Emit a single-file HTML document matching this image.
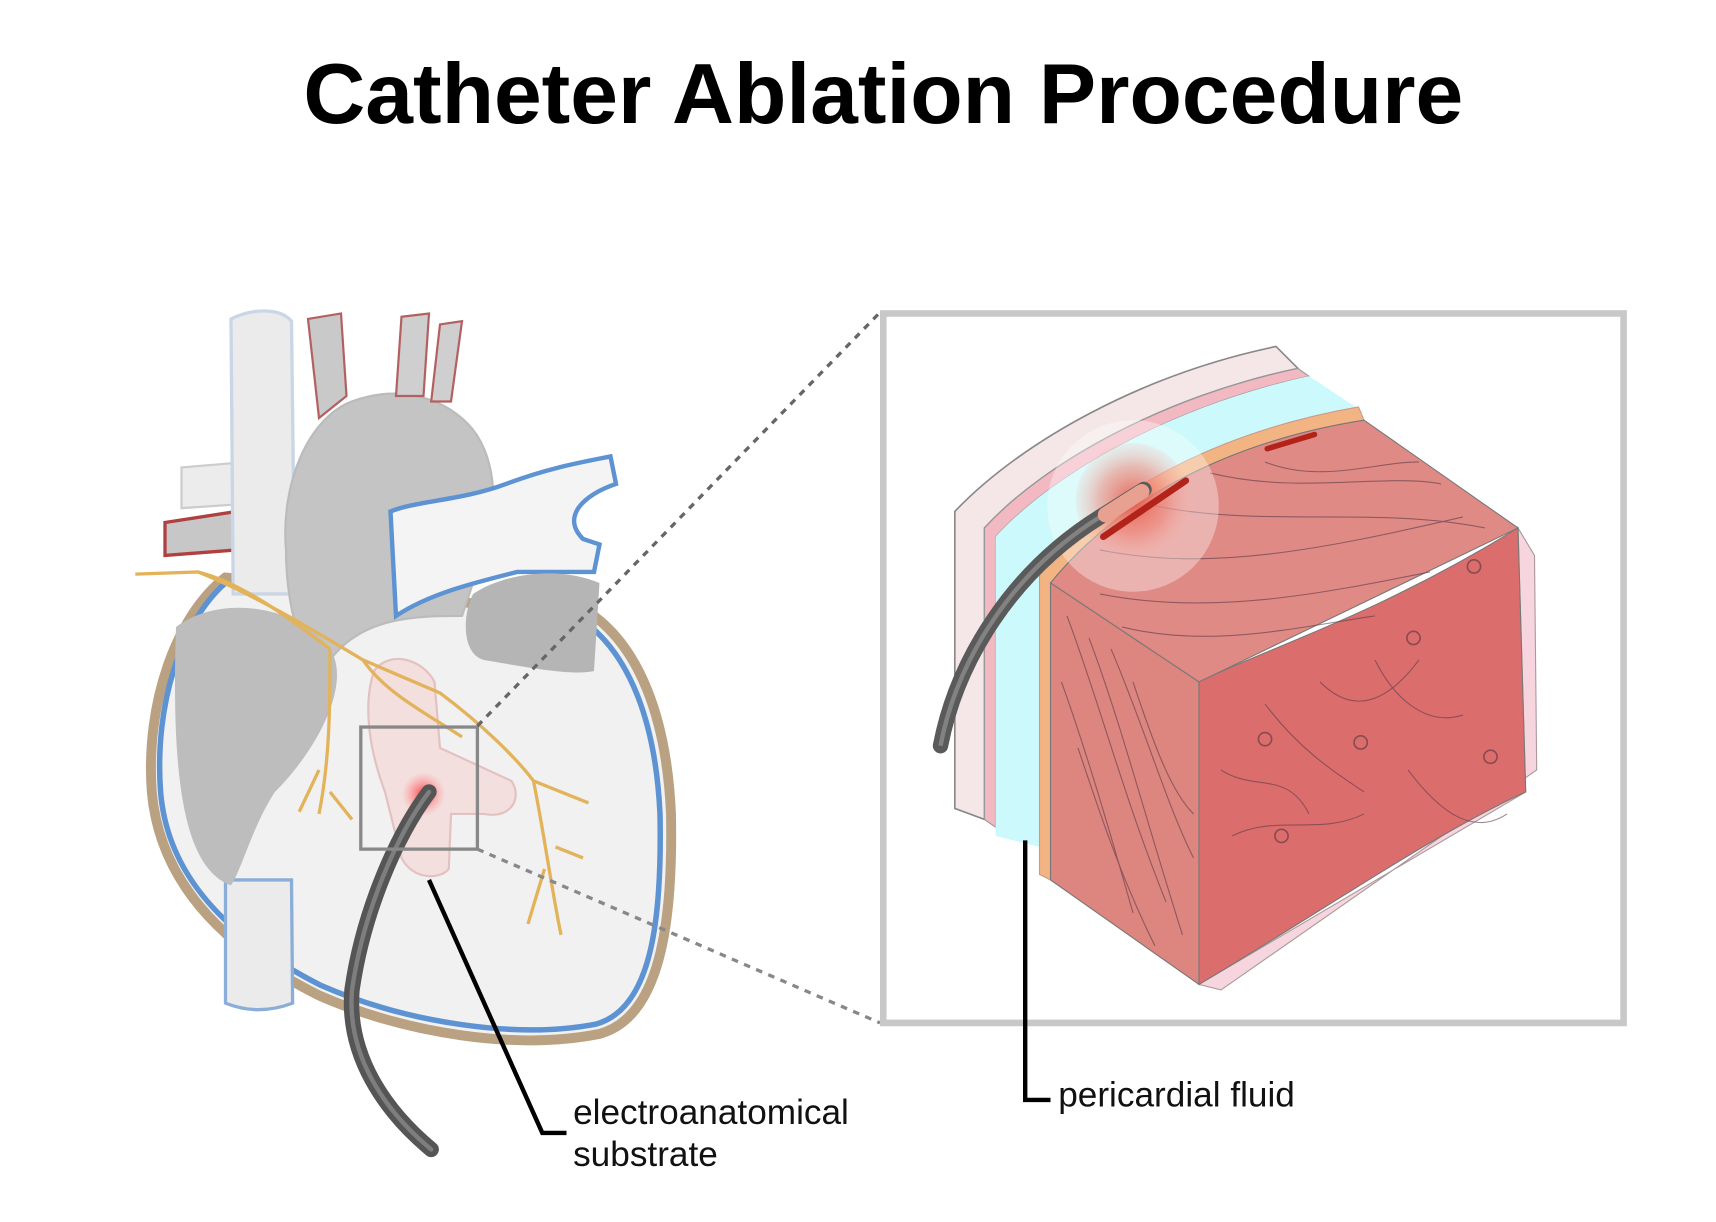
<!DOCTYPE html>
<html><head><meta charset="utf-8"><style>
html,body{margin:0;padding:0;background:#fff;width:1716px;height:1222px;overflow:hidden}
svg{display:block}
text{font-family:"Liberation Sans",sans-serif}
</style></head><body>
<svg width="1716" height="1222" viewBox="0 0 1560 1111" preserveAspectRatio="none" xmlns="http://www.w3.org/2000/svg">
<defs>
<radialGradient id="glow" cx="0.5" cy="0.5" r="0.5">
<stop offset="0" stop-color="#e84a3a" stop-opacity="0.85"/>
<stop offset="0.6" stop-color="#ee7a6a" stop-opacity="0.5"/>
<stop offset="1" stop-color="#f5b0a8" stop-opacity="0.15"/>
</radialGradient>
<radialGradient id="glow2" cx="0.5" cy="0.5" r="0.5">
<stop offset="0" stop-color="#ff3030" stop-opacity="0.9"/>
<stop offset="1" stop-color="#ff8080" stop-opacity="0"/>
</radialGradient>
</defs>
<text x="803" y="112" font-size="78" font-weight="bold" text-anchor="middle" fill="#000">Catheter Ablation Procedure</text>

<!-- Heart -->
<path d="M205,525 C160,560 132,640 138,720 C145,800 200,860 290,905 C370,940 470,955 545,940 C600,925 612,840 610,740 C606,650 580,590 540,560 Z" fill="#f1f1f1" stroke="#b9a182" stroke-width="9"/>
<path d="M205,530 C165,565 140,640 146,720 C152,795 205,852 292,896 C370,930 470,945 542,931 C592,917 602,838 600,740 C596,655 572,598 535,568" fill="none" stroke="#5d93d2" stroke-width="5"/>
<path d="M150,475 L215,465 L215,500 L150,505 Z" fill="#c7c7c7" stroke="#b04040" stroke-width="3"/>
<path d="M165,425 L225,420 L225,458 L165,462 Z" fill="#ececec" stroke="#ccc" stroke-width="2"/>
<path d="M210,290 C230,280 255,280 265,292 L268,540 L212,540 Z" fill="#ebebeb" stroke="#c9d6e6" stroke-width="3"/>
<path d="M205,800 L265,800 L266,912 C245,920 225,920 205,912 Z" fill="#ebebeb" stroke="#8aaed8" stroke-width="3"/>
<path d="M260,500 C255,440 280,380 320,365 C360,350 400,360 425,385 C450,410 455,460 440,500 L420,560 C380,560 330,560 300,600 C280,620 260,560 260,500 Z" fill="#c4c4c4" stroke="#bbb" stroke-width="2"/>
<path d="M280,290 L310,285 L315,360 L290,380 Z" fill="#c9c9c9" stroke="#b36060" stroke-width="2"/>
<path d="M365,288 L390,285 L385,360 L360,360 Z" fill="#cfcfcf" stroke="#b36060" stroke-width="2"/>
<path d="M400,295 L420,292 L410,365 L392,365 Z" fill="#cfcfcf" stroke="#b36060" stroke-width="2"/>
<path d="M160,570 C200,540 270,550 300,590 C320,620 290,680 250,720 C230,750 220,790 210,805 C170,790 155,720 160,570 Z" fill="#bdbdbd"/>
<path d="M355,465 C380,455 420,455 460,440 C500,425 530,420 555,415 L560,440 C530,450 510,470 530,490 L545,495 L540,520 L470,520 C430,530 390,540 360,560 Z" fill="#f4f4f4" stroke="#5d93d2" stroke-width="4"/>
<path d="M430,540 C460,520 510,515 545,530 L540,610 C520,615 470,605 440,600 C420,595 420,560 430,540 Z" fill="#b5b5b5"/>
<path d="M340,610 C355,590 385,600 395,620 L400,680 L465,710 C475,725 465,745 440,740 L410,740 L408,790 C400,800 375,800 365,780 L350,720 C335,680 330,640 340,610 Z" fill="#f5dede" stroke="#e3bcbc" stroke-width="2" opacity="0.9"/>
<circle cx="385" cy="722" r="20" fill="url(#glow2)"/>
<g fill="none" stroke="#e2b35a" stroke-width="3">
<path d="M123,522 L180,520 C230,540 280,570 330,600 L400,630 C440,660 470,690 485,710 L535,730"/>
<path d="M330,600 C350,630 390,650 420,670"/>
<path d="M485,710 C495,760 500,800 510,850"/>
<path d="M300,590 C300,640 300,690 290,740"/>
<path d="M290,700 L272,738 M300,720 L320,745 M495,790 L480,840 M505,770 L530,780"/>
<path d="M180,520 C220,530 260,560 300,590"/>
</g>
<path d="M390,720 C360,760 330,830 320,900 C315,960 350,1010 392,1045" fill="none" stroke="#555" stroke-width="14" stroke-linecap="round"/>
<path d="M390,720 C360,760 330,830 320,900 C315,960 350,1010 392,1045" fill="none" stroke="#999" stroke-width="4" stroke-linecap="round" opacity="0.6"/>
<rect x="328" y="661" width="106" height="111" fill="none" stroke="#888" stroke-width="3"/>

<!-- dotted connectors -->
<line x1="434" y1="660" x2="800" y2="284" stroke="#666" stroke-width="3" stroke-dasharray="6,6"/>
<line x1="434" y1="772" x2="800" y2="930" stroke="#888" stroke-width="3" stroke-dasharray="6,6"/>

<!-- Inset box -->
<rect x="803" y="285" width="673" height="645" fill="#fff" stroke="#c8c8c8" stroke-width="6"/>

<!-- tissue layers -->
<path d="M868,465 C930,400 1040,340 1160,315 L1180,335 C1060,360 950,420 895,480 L895,745 L868,735 Z" fill="#f5e6e8" stroke="#888" stroke-width="1.5"/>
<path d="M895,480 C950,420 1060,360 1180,335 L1190,342 C1070,368 960,428 905,488 L905,752 L895,745 Z" fill="#f3b9c2" stroke="#999" stroke-width="1"/>
<path d="M905,488 C960,428 1070,368 1190,342 L1240,375 C1120,390 1010,440 945,520 L945,770 L905,760 Z" fill="#ccf9fb"/>
<path d="M945,520 C1010,440 1120,390 1235,370 L1240,382 C1125,400 1020,450 955,530 L955,800 L945,795 Z" fill="#f2b483" stroke="#c98" stroke-width="1"/>
<path d="M955,530 C1020,450 1125,400 1240,382 L1380,480 L1090,620 Z" fill="#e08a86" stroke="#777" stroke-width="1"/>
<path d="M955,530 L1090,620 L1090,895 L955,800 Z" fill="#dd857f" stroke="#777" stroke-width="1"/>
<path d="M1380,480 L1395,505 L1397,700 L1110,900 L1090,895 L1387,720 Z" fill="#f6d5df" stroke="#a99" stroke-width="1"/>
<path d="M1090,620 C1150,590 1250,560 1380,480 L1387,720 C1300,760 1200,830 1090,895 Z" fill="#db6e6c" stroke="#777" stroke-width="1"/>
<g fill="none" stroke="#5a3a4a" stroke-width="1" opacity="0.6">
<path d="M970,560 C1000,640 1020,720 1060,820"/><path d="M990,580 C1020,660 1040,740 1075,850"/>
<path d="M965,620 C990,690 1010,760 1030,830"/><path d="M1010,590 C1040,660 1060,730 1085,780"/>
<path d="M980,680 C1000,740 1020,800 1050,860"/><path d="M1030,620 C1050,680 1065,720 1085,740"/>
<path d="M1000,500 C1100,520 1200,500 1330,470"/><path d="M1050,460 C1150,480 1250,460 1350,480"/>
<path d="M1100,430 C1180,450 1260,430 1310,440"/><path d="M1000,540 C1100,560 1200,540 1300,520"/>
<path d="M1020,570 C1100,590 1180,570 1250,560"/><path d="M1150,420 C1200,440 1250,420 1290,420"/>
<path d="M1150,640 C1180,680 1210,700 1240,720"/><path d="M1250,600 C1270,640 1300,660 1330,650"/>
<path d="M1120,760 C1160,740 1200,760 1240,740"/><path d="M1200,620 C1230,650 1260,640 1290,600"/>
<path d="M1280,700 C1310,740 1340,760 1370,740"/><path d="M1110,700 C1140,720 1170,700 1190,740"/>
</g>
<g fill="none" stroke="#8a4a50" stroke-width="1.5">
<circle cx="1285" cy="580" r="6"/><circle cx="1340" cy="515" r="6"/><circle cx="1150" cy="672" r="6"/><circle cx="1237" cy="675" r="6"/><circle cx="1165" cy="760" r="6"/><circle cx="1355" cy="688" r="6"/>
</g>
<circle cx="1030" cy="460" r="78" fill="#fff" opacity="0.35"/>
<circle cx="1030" cy="455" r="52" fill="url(#glow)"/>
<line x1="1003" y1="488" x2="1078" y2="437" stroke="#b2231a" stroke-width="6" stroke-linecap="round"/>
<line x1="1152" y1="408" x2="1195" y2="395" stroke="#b2231a" stroke-width="5" stroke-linecap="round"/>
<path d="M855,678 C870,600 920,520 1000,470 L1040,445" fill="none" stroke="#5a5a5a" stroke-width="14" stroke-linecap="round"/>
<path d="M855,678 C870,600 920,520 1000,470" fill="none" stroke="#aaa" stroke-width="4" opacity="0.5"/>
<line x1="1005" y1="468" x2="1038" y2="447" stroke="#e8a090" stroke-width="14" stroke-linecap="round"/>

<!-- labels -->
<path d="M390,800 L493,1030 L515,1030" fill="none" stroke="#000" stroke-width="4"/>
<text x="521" y="1022" font-size="32" fill="#111">electroanatomical</text>
<text x="521" y="1060" font-size="32" fill="#111">substrate</text>
<path d="M932,764 L932,1000 L955,1000" fill="none" stroke="#000" stroke-width="4"/>
<text x="962" y="1006" font-size="32" fill="#111">pericardial fluid</text>
</svg>
</body></html>
